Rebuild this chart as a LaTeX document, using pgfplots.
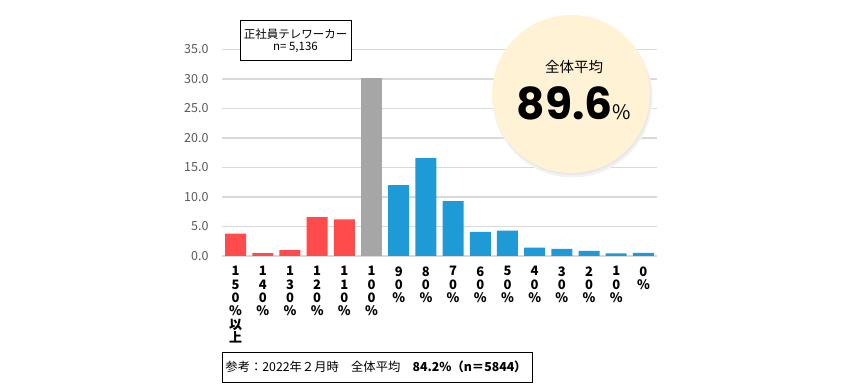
\documentclass[border=0pt]{standalone}
\usepackage{fontspec}
\setmainfont{Noto Sans CJK JP}
\newfontfamily\poppins{Poppins}
\usepackage{pgfplots}
\pgfplotsset{compat=1.18}
\definecolor{cred}{HTML}{FF4B4B}
\definecolor{cgray}{HTML}{A6A6A6}
\definecolor{cblue}{HTML}{1E9BD7}
\definecolor{gridc}{HTML}{D9D9D9}
\definecolor{cream}{HTML}{FFF2D5}
\definecolor{ticktext}{HTML}{595959}
\begin{document}
\begin{tikzpicture}[x=1pt,y=1pt]
\path (0,0) rectangle (846,390);
\begin{axis}[at={(222pt,134pt)}, anchor=south west, scale only axis,
  width=435pt, height=206.5pt,
  xmin=-0.5, xmax=15.5, ymin=0, ymax=35,
  ytick={0,5,...,35}, ymajorgrids, grid style={gridc, line width=1.3pt},
  axis line style={draw=none}, tick style={draw=none},
  xtick={0,...,15},
  xticklabels={{1\\5\\0\\\%\\以\\上},{1\\4\\0\\\%},{1\\3\\0\\\%},{1\\2\\0\\\%},{1\\1\\0\\\%},{1\\0\\0\\\%},{9\\0\\\%},{8\\0\\\%},{7\\0\\\%},{6\\0\\\%},{5\\0\\\%},{4\\0\\\%},{3\\0\\\%},{2\\0\\\%},{1\\0\\\%},{0\\\%}},
  xticklabel style={anchor=north, align=center, yshift=-7pt, font=\bfseries\fontsize{13}{13.3}\selectfont},
  yticklabel style={anchor=east, xshift=-10pt, text=ticktext, font=\fontsize{12.5}{13}\selectfont},
  /pgf/number format/.cd, fixed, fixed zerofill, precision=1, assume math mode=true,
]
\addplot[ybar, bar width=21pt, bar shift=0pt, fill=cred, draw=none] coordinates {(0,3.8)(1,0.5)(2,1.0)(3,6.6)(4,6.2)};
\addplot[ybar, bar width=21pt, bar shift=0pt, fill=cgray, draw=none] coordinates {(5,30.2)};
\addplot[ybar, bar width=21pt, bar shift=0pt, fill=cblue, draw=none] coordinates {(6,12.0)(7,16.6)(8,9.3)(9,4.1)(10,4.3)(11,1.4)(12,1.2)(13,0.85)(14,0.45)(15,0.55)};
\end{axis}
% label box
\draw[fill=white, line width=0.8pt] (240,369.3) rectangle (351,329.3);
\node[font=\fontsize{11.5}{12}\selectfont, align=center] at (295.5,349) {正社員テレワーカー\\n= 5,136};
% average circle
\fill[black!5] (572.5,292.5) circle (80);
\fill[black!9] (572,294) circle (79);
\fill[cream] (571,296) circle (79);
\node[font=\fontsize{14.5}{15}\selectfont] at (574,322.5) {全体平均};
\node[anchor=base, inner sep=0pt] at (574,270) {{\poppins\bfseries\fontsize{44}{44}\selectfont 89.6}{\fontsize{20}{20}\selectfont\%}};
% bottom reference box
\draw[line width=0.8pt] (222,38) rectangle (532,8);
\node[font=\fontsize{12.3}{14}\selectfont] at (376,23) {参考：2022年２月時　全体平均　\textbf{84.2\%（n＝5844）}};
\end{tikzpicture}
\end{document}
